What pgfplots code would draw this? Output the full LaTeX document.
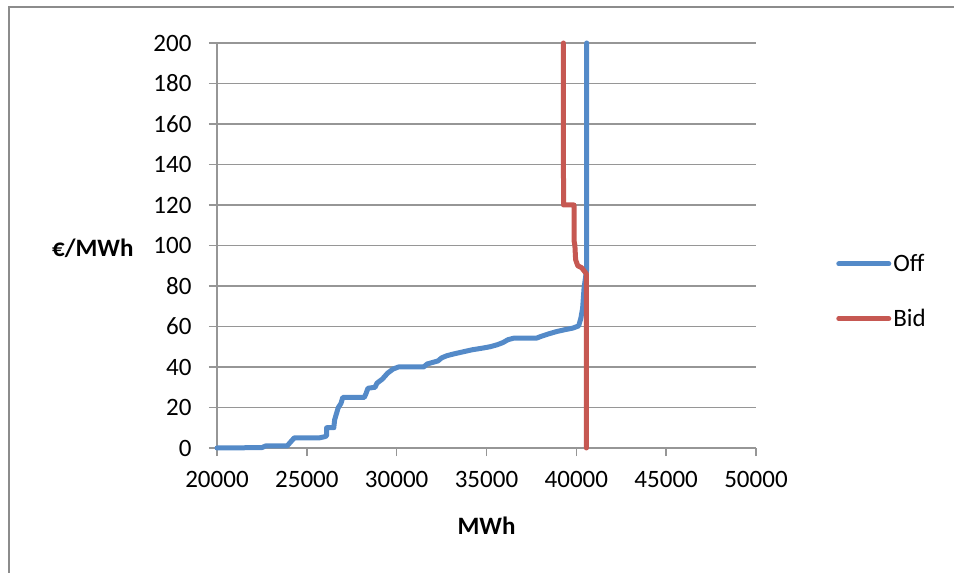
\documentclass[border=0pt]{standalone}
\usepackage{pgfplots}
\pgfplotsset{compat=1.18}
\usepackage{fontspec}
\setmainfont{Carlito}
\definecolor{offblue}{RGB}{84,138,200}
\definecolor{bidred}{RGB}{198,88,82}
\definecolor{gridgray}{RGB}{150,150,150}
\definecolor{framegray}{RGB}{140,140,140}

\begin{document}
\begin{tikzpicture}[x=1pt,y=1pt]
\useasboundingbox (0,0) rectangle (954,573);
\draw[framegray, line width=2pt] (9,-5) -- (9,566) -- (960,566);
\begin{axis}[
    at={(217pt,125pt)}, anchor=south west,
    scale only axis, width=539pt, height=405pt,
    xmin=20000, xmax=50000, ymin=0, ymax=200,
    xtick distance=5000, ytick distance=20,
    scaled x ticks=false,
    /pgf/number format/1000 sep={},
    /pgf/number format/assume math mode=true,
    axis lines*=left,
    axis line style={draw=gridgray, line width=1.5pt, -},
    tick style={draw=gridgray, line width=1.5pt},
    major tick length=8pt,
    tick align=outside,
    ymajorgrids,
    grid style={draw=gridgray, line width=1.5pt},
    every tick label/.append style={font=\fontsize{25}{30}\selectfont},
    xticklabel style={yshift=-12pt},
    yticklabel style={xshift=-14pt},
    xlabel={\bfseries MWh},
    ylabel={\bfseries €/MWh},
    label style={font=\fontsize{25}{30}\selectfont},
    xlabel style={at={(axis description cs:0.5,-0.1926)}, anchor=center},
    ylabel style={at={(axis description cs:-0.1484,0.494)}, rotate=-90, anchor=east},
    clip=false,
    legend style={at={(axis description cs:1.143,0.488)}, anchor=north west,
        draw=none, fill=none, font=\fontsize{25}{30}\selectfont,
        row sep=32pt, legend cell align=left},
    legend image code/.code={\draw[#1, line cap=round] (0pt,0pt) -- (50pt,0pt);},
]
\addplot[offblue, line width=5pt, line join=round, line cap=round] coordinates {
(20000,0) (22500,0.2) (22700,1) (23900,1) (24100,3) (24300,5) (25700,5)
(26000,5.6) (26100,6) (26100,10) (26500,10) (26550,14) (26650,17) (26750,20)
(26900,22) (27000,25) (28200,25) (28300,27) (28400,29.5) (28800,30)
(28900,32) (29200,34) (29500,37) (29800,39) (30100,40) (31500,40)
(31700,41.5) (32300,43) (32500,44.5) (32800,45.6) (33200,46.5) (33700,47.5)
(34200,48.5) (34700,49.2) (35200,50) (35600,51) (35900,52) (36200,53.5)
(36500,54.2) (37800,54.3) (38000,55) (38400,56.2) (38900,57.5) (39300,58.3)
(39800,59.2) (40130,60.3) (40250,64) (40350,69) (40430,79) (40540,86)
(40577,88) (40577,200)
};
\addlegendentry{Off}
\addplot[bidred, line width=5pt, line join=round, line cap=round] coordinates {
(39280,200) (39280,150) (39290,120) (39870,120) (39880,102) (39920,100)
(39960,93) (40080,90) (40300,89) (40560,86) (40560,80) (40560,0)
};
\addlegendentry{Bid}
\end{axis}
\end{tikzpicture}
\end{document}
